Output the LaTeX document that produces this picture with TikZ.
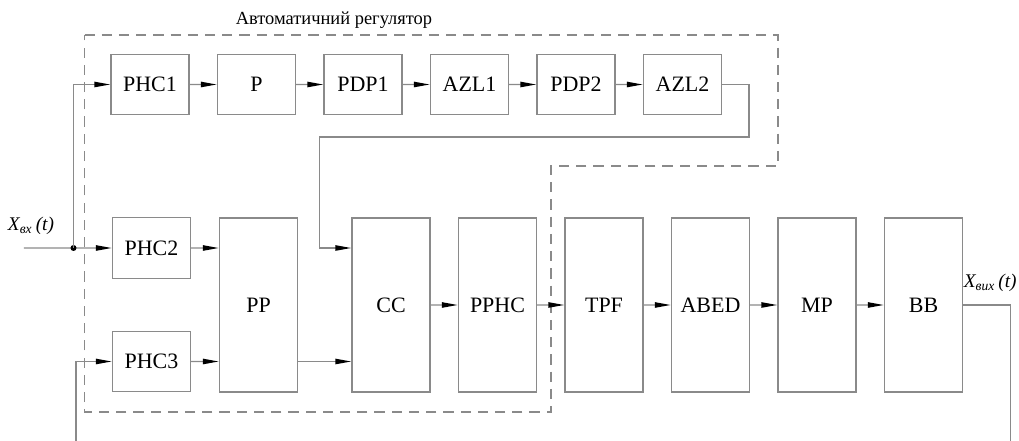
\documentclass[tikz,border=0pt]{standalone}
\usepackage{fontspec}
\setmainfont{Liberation Serif}
\usetikzlibrary{arrows.meta,positioning}
\definecolor{linegray}{RGB}{138,138,138}

\begin{document}
\begin{tikzpicture}[scale=0.2]
\tikzstyle{every node}+=[inner sep=0pt, font=\fontsize{12.5}{14}\selectfont]
\tikzstyle{block}=[draw=linegray, line width=0.8pt, minimum width=1.56cm]
\tikzstyle{small}=[block, minimum height=1.21cm]
\tikzstyle{tall}=[block, minimum height=3.48cm]
\tikzstyle{conn}=[linegray, line width=0.8pt]
\tikzstyle{sig}=[conn, -{Triangle[length=9pt,width=3pt,black]}]
\tikzstyle{signame}=[font=\fontsize{11}{12}\selectfont\itshape]
\useasboundingbox (0,0) rectangle (101.9,-44.1);
% regulator boundary
\draw [linegray, line width=0.8pt, dash pattern=on 5.8pt off 4pt] (8.45,-3.5) -- (77.8,-3.5) -- (77.8,-16.6) -- (55.1,-16.6) -- (55.1,-41.2) -- (8.45,-41.2) -- cycle;
\node (title) at (33.4,-2.0) [font=\fontsize{10.5}{12}\selectfont] {Автоматичний регулятор};
% upper chain
\node [small] (PHC1) at (15.0,-8.45) {PHC1};
\node [small] (P) at (25.65,-8.45) {P};
\node [small] (PDP1) at (36.3,-8.45) {PDP1};
\node [small] (AZL1) at (46.95,-8.45) {AZL1};
\node [small] (PDP2) at (57.6,-8.45) {PDP2};
\node [small] (AZL2) at (68.25,-8.45) {AZL2};
% lower chain
\node [small] (PHC2) at (15.15,-24.8) {PHC2};
\node [small] (PHC3) at (15.15,-36.15) {PHC3};
\node [tall] (PP) at (25.85,-30.5) {PP};
\node [tall] (CC) at (39.1,-30.5) {CC};
\node [tall] (PPHC) at (49.75,-30.5) {PPHC};
\node [tall] (TPF) at (60.4,-30.5) {TPF};
\node [tall] (ABED) at (71.05,-30.5) {ABED};
\node [tall] (MP) at (81.7,-30.5) {MP};
\node [tall] (BB) at (92.35,-30.5) {BB};
% signals
\node [signame] (xin) at (3.1,-22.6) {X\textsubscript{вх}\,(t)};
\node [signame, anchor=east] (xout) at (101.7,-28.3) {X\textsubscript{вих}\,(t)};
\coordinate (in) at (2.4,-24.8);
\coordinate (split) at (7.35,-24.8);
\coordinate (fbin) at (7.6,-44.1);
\coordinate (fbout) at (101.05,-44.1);
\coordinate (loopR) at (74.9,-13.7);
\coordinate (loopL) at (31.95,-13.7);
\draw [sig] (in) -- (PHC2);
\fill [black] (split) circle (0.3);
\draw [sig] (split) |- (PHC1);
\draw [sig] (fbin) |- (PHC3);
\draw [sig] (PHC1) -- (P);
\draw [sig] (P) -- (PDP1);
\draw [sig] (PDP1) -- (AZL1);
\draw [sig] (AZL1) -- (PDP2);
\draw [sig] (PDP2) -- (AZL2);
\draw [sig] (AZL2.east) -| (loopR) -- (loopL) |- (CC.west |- PHC2);
\draw [sig] (PHC2) -- (PP.west |- PHC2);
\draw [sig] (PHC3) -- (PP.west |- PHC3);
\draw [sig] (PP.east |- PHC3) -- (CC.west |- PHC3);
\draw [sig] (CC) -- (PPHC);
\draw [sig] (PPHC) -- (TPF);
\draw [sig] (TPF) -- (ABED);
\draw [sig] (ABED) -- (MP);
\draw [sig] (MP) -- (BB);
\draw [conn] (BB.east) -| (fbout);
\end{tikzpicture}
\end{document}
